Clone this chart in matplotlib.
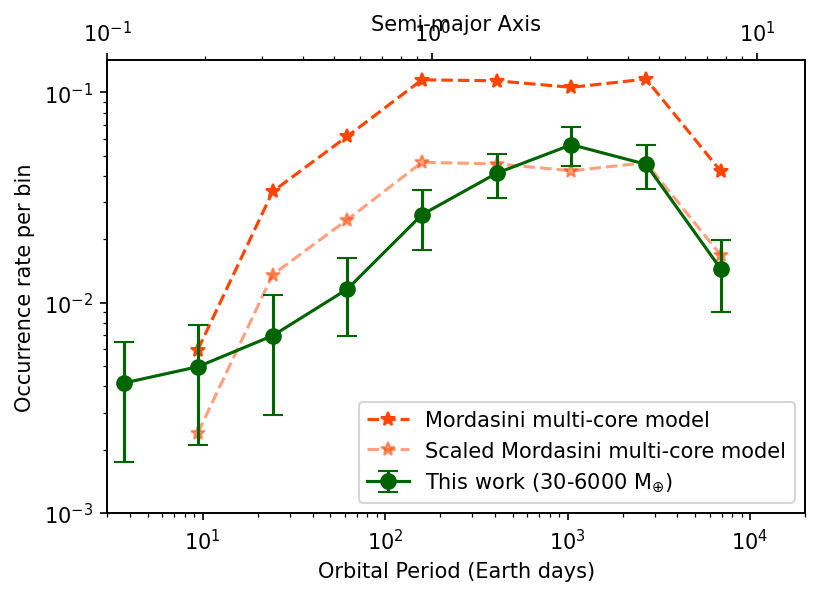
import matplotlib
matplotlib.use("Agg")
import matplotlib.pyplot as plt

# bin centres (orbital period, days)
period_this_work = [3.7, 9.4, 24.2, 62.0, 159.0, 409.0, 1050.0, 2690.0, 6920.0]
rate_this_work = [0.00415, 0.00496, 0.00697, 0.0116, 0.0262, 0.0413, 0.0564, 0.0455, 0.01445]
rate_upper = [0.00652, 0.00781, 0.01086, 0.0163, 0.0344, 0.0511, 0.0684, 0.0564, 0.0199]
rate_lower = [0.00175, 0.0021, 0.00292, 0.00692, 0.0179, 0.0316, 0.0448, 0.0347, 0.0090]

period_model = [9.4, 24.2, 62.0, 159.0, 409.0, 1050.0, 2690.0, 6920.0]
rate_mordasini = [0.00597, 0.0338, 0.0618, 0.1148, 0.1135, 0.1057, 0.1157, 0.0421]
rate_scaled = [0.0024, 0.0136, 0.0248, 0.0465, 0.0457, 0.0424, 0.0463, 0.0168]


def main():
    fig = plt.figure(figsize=(5.52, 3.973), dpi=150)
    ax = fig.add_axes([0.1296, 0.1376, 0.8426, 0.7606])

    ax.plot(period_model, rate_mordasini, '--*', color='orangered',
            markersize=7, label='Mordasini multi-core model')
    ax.plot(period_model, rate_scaled, '--*', color='orangered', alpha=0.5,
            markersize=7, label='Scaled Mordasini multi-core model')
    yerr = [[r - lo for r, lo in zip(rate_this_work, rate_lower)],
            [hi - r for r, hi in zip(rate_this_work, rate_upper)]]
    ax.errorbar(period_this_work, rate_this_work, yerr=yerr, fmt='-o',
                color='darkgreen', markersize=7, capsize=5,
                label=r'This work (30-6000 M$_{\oplus}$)')

    ax.set_xscale('log')
    ax.set_yscale('log')
    ax.set_xlim(3, 2e4)
    ax.set_ylim(1e-3, 0.143)
    ax.set_xlabel('Orbital Period (Earth days)')
    ax.set_ylabel('Occurrence rate per bin')
    ax.legend(loc='lower right')

    ax2 = ax.twiny()
    ax2.set_xscale('log')
    ax2.set_xlim(0.1, 14.05)
    ax2.set_xlabel('Semi-major Axis', labelpad=-5)

    fig.savefig('out.png', dpi=150)


if __name__ == "__main__":
    main()
